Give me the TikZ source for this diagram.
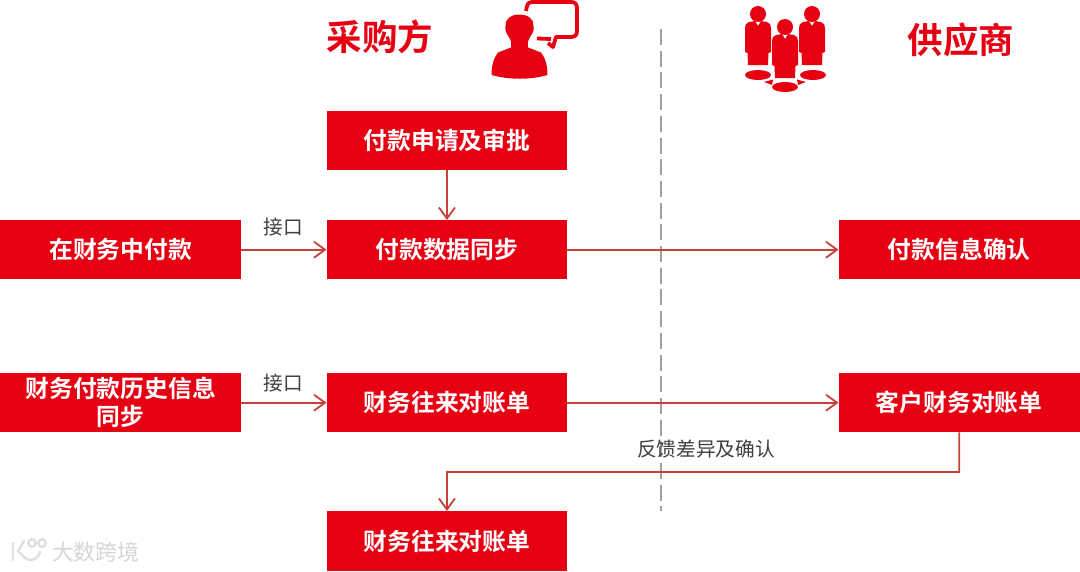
\documentclass[tikz,border=0pt]{standalone}
\usepackage{fontspec}
\setmainfont{Noto Sans CJK SC}
\newfontfamily\cjkbold{Noto Sans CJK SC Bold}
\usetikzlibrary{arrows.meta}
\definecolor{brandred}{HTML}{E60012}
\definecolor{linkred}{HTML}{C8403A}
\definecolor{textgray}{HTML}{404040}
\tikzset{
  redbox/.style={fill=brandred,draw=none,anchor=north west,inner sep=0pt,align=center,text=white,
    font={\cjkbold\fontsize{23.8}{28}\selectfont}},
  flow/.style={draw=linkred,line width=1.8pt,-{Straight Barb[length=11pt,width=16pt,line width=1.8pt]}},
  note/.style={text=textgray,inner sep=0pt,font={\fontsize{19.7}{24}\selectfont}},
  heading/.style={text=brandred,inner sep=0pt,font={\cjkbold\fontsize{35.5}{40}\selectfont}},
  divider/.style={draw=gray!75,line width=2pt,dash pattern=on 16pt off 5.7pt},
  icon/.style={fill=brandred,draw=none},
  wm/.style={draw=gray!25,line width=2.4pt,line cap=round}
}
\begin{document}
\begin{tikzpicture}[x=1pt,y=-1pt]
\useasboundingbox[fill=white] (0,0) rectangle (1080,571);

% divider
\coordinate (dtop) at (660.5,29);
\coordinate (dbot) at (660.5,510.5);
\draw[divider] (dtop) -- (dbot);

% headings
\node[heading] (buyer) at (380,37) {采购方};
\node[heading] (vendor) at (961,40) {供应商};

% boxes
\node[redbox,minimum width=240.5pt,minimum height=59pt] (a) at (326.5,111) {付款申请及审批};
\node[redbox,minimum width=240.5pt,minimum height=59pt] (b) at (326.5,220) {付款数据同步};
\node[redbox,minimum width=241pt,minimum height=59pt] (c) at (0,220) {在财务中付款};
\node[redbox,minimum width=241pt,minimum height=59pt] (d) at (838.5,220) {付款信息确认};
\node[redbox,minimum width=241pt,minimum height=59pt] (e) at (0,373) {财务付款历史信息\\同步};
\node[redbox,minimum width=240.5pt,minimum height=59pt] (f) at (326.5,373) {财务往来对账单};
\node[redbox,minimum width=241pt,minimum height=59pt] (g) at (838.5,373) {客户财务对账单};
\node[redbox,minimum width=240.5pt,minimum height=60pt] (h) at (326.5,511) {财务往来对账单};

% connectors
\coordinate (turn) at (447,472);
\draw[flow] (a.south) -- (b.north);
\draw[flow] (c.east) -- (b.west);
\draw[flow] (b.east) -- (d.west);
\draw[flow] (e.east) -- (f.west);
\draw[flow] (f.east) -- (g.west);
\draw[flow] (g.south) |- (turn) -- (h.north);

% labels
\node[note] (n1) at (283,227) {接口};
\node[note] (n2) at (283,383) {接口};
\node[note] (n3) at (706,449) {反馈差异及确认};

% buyer icon
\fill[icon] (491.5,75) .. controls (510,80) and (530,80) .. (547.5,75)
  .. controls (547.5,66) and (545.5,58) .. (541,52.5)
  -- (528,47.5) .. controls (527,44) and (528,41) .. (530,37)
  .. controls (533,33) and (534.5,29) .. (533.5,26)
  .. controls (534,19) and (528,14.5) .. (519,14.5)
  .. controls (511,14.5) and (505,19) .. (505.5,26)
  .. controls (505,30) and (506,33) .. (509,37)
  .. controls (511,41) and (512,44) .. (511,47.5)
  -- (498,52.5) .. controls (493.5,58) and (491.5,66) .. (491.5,75) -- cycle;
\draw[brandred,line width=3.8pt,line join=round]
  (526,11) -- (527,6) .. controls (527.5,3.5) and (529,2) .. (532,2)
  -- (571,2) .. controls (575,2) and (577,4) .. (577,8)
  -- (577,31) .. controls (577,35) and (575,37) .. (571,37)
  -- (556,37) -- (553,47) -- (548,43) (551,39) -- (537,38.5);

% vendor icon
\foreach \px/\py in {758/22, 785/35, 812/22}{
  \fill[icon] (\px,\py-8) circle (8);
  \fill[icon] (\px-9,\py) -- (\px-3,\py-1) -- (\px,\py+4) -- (\px+3,\py-1) -- (\px+9,\py)
    .. controls (\px+12,\py+1) and (\px+13,\py+3) .. (\px+13,\py+6)
    -- (\px+13,\py+30) -- (\px+10.5,\py+31) -- (\px+10,\py+43) -- (\px-10,\py+43) -- (\px-10.5,\py+31) -- (\px-13,\py+30)
    -- (\px-13,\py+6) .. controls (\px-13,\py+3) and (\px-12,\py+1) .. (\px-9,\py) -- cycle;
}
\fill[icon] (758,75) ellipse (13 and 5);
\fill[icon] (813,75) ellipse (13 and 5);
\fill[icon] (785,87) ellipse (13 and 5);
\fill[icon] (764,82) -- (773,79.5) -- (772,85) -- cycle;
\fill[icon] (806,82) -- (797,79.5) -- (798,85) -- cycle;

% watermark
\draw[wm] (13,543) -- (13,560);
\draw[wm] (24,541) -- (18,551) -- (25,558) .. controls (30,562) and (38,560) .. (40,552);
\draw[wm] (32,543) circle (3.8);
\draw[wm] (42,543) circle (3.8);
\node[text=gray!32,inner sep=0pt,font={\fontsize{22}{24}\selectfont}] (wmtext) at (96,552) {大数跨境};
\end{tikzpicture}
\end{document}
